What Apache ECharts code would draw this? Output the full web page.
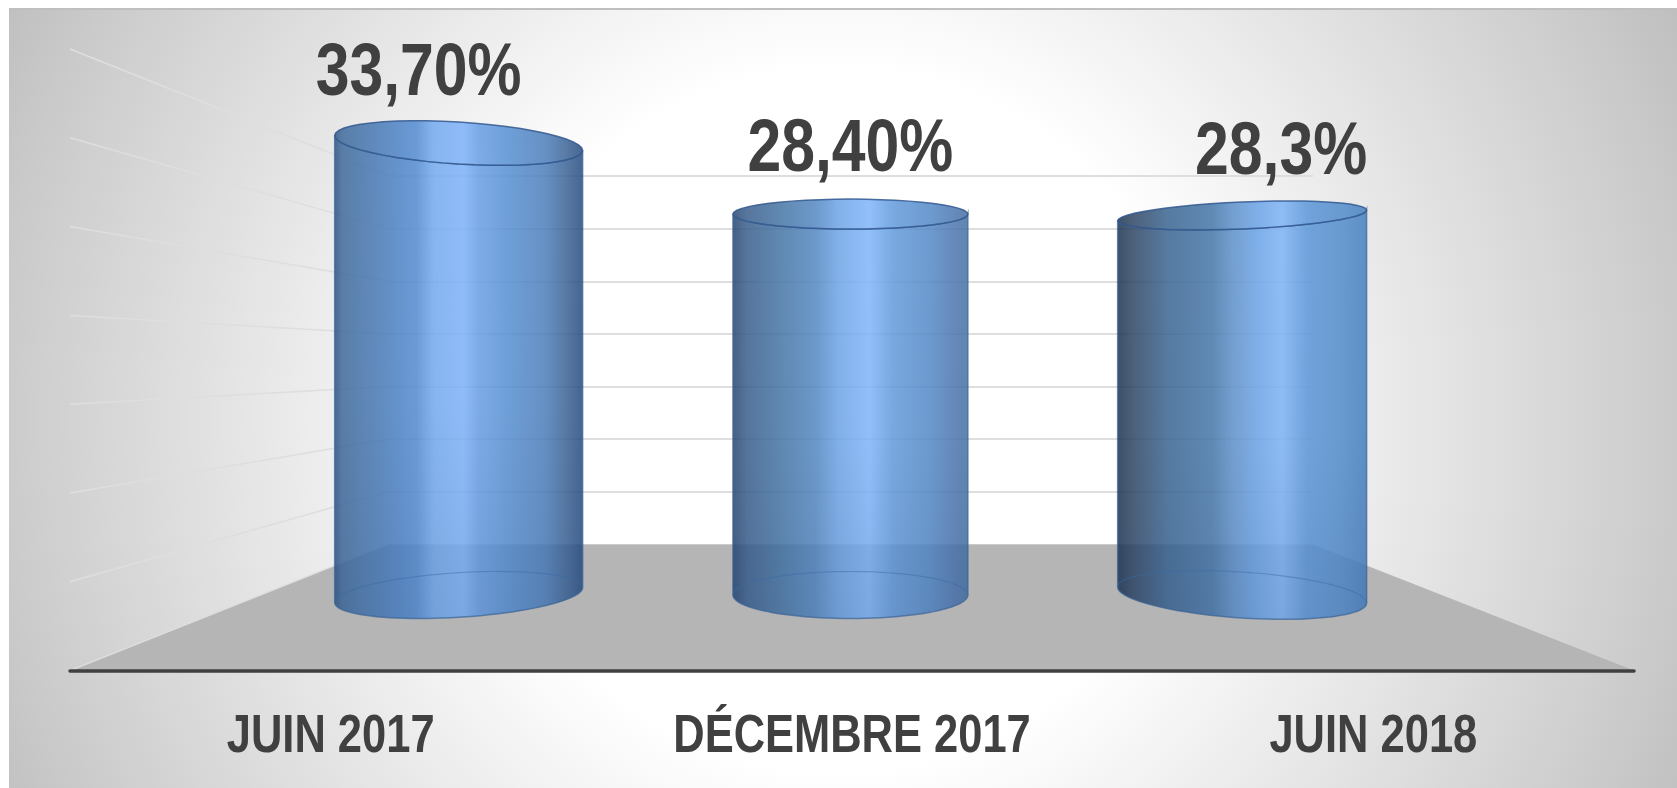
<!doctype html>
<html>
    <head>
        <meta charset="utf-8">
        <title>Cylindres 3D</title>
        <style>
            html, body { margin: 0; height: 100%; background: #fff; }
            #main { width: 1677px; height: 788px; }
        </style>
    </head>
    <body>
        <div id="main"></div>
        <script src="https://cdn.jsdelivr.net/npm/echarts@6/dist/echarts.min.js"></script>
        <script>
            var categories = ['JUIN 2017', 'DÉCEMBRE 2017', 'JUIN 2018'];
            var values = [33.7, 28.4, 28.3];
            var valueLabels = ['33,70%', '28,40%', '28,3%'];
            var levels = [0, 5, 10, 15, 20, 25, 30, 35];

            var FONT = '"Liberation Sans", Arial, sans-serif';
            var WIDTH = 1677;
            var HEIGHT = 788;
            // no narrow bold font here, so the text is squeezed sideways
            var TEXT_SQUEEZE = 0.82;
            var GLASS = 0.86;

            // the three planes of the fake 3d box: back wall, front edge, cylinders
            var backPlane = { left: 388, right: 1313, top: 176, bottom: 544.4 };
            var frontPlane = { left: 70, right: 1634, top: 49, bottom: 670.6 };
            var cylinderPlane = { left: 262.8, right: 1438, top: 125.6, bottom: 595 };

            // perspective look of each cylinder, stops are the colours seen over a white wall
            var cylinderLook = [
                {
                    halfWidth: 124, topTilt: 7.5, topRy: 21, baseTilt: -7.5, baseRy: 22.3, labelDx: -40, labelDy: -68,
                    stops: [[0, '#4a6a96'], [0.03, '#5b7fa8'], [0.1, '#5f87b4'], [0.25, '#6694cc'], [0.33, '#6c9cd8'], [0.4, '#88b6f0'], [0.52, '#90bdfa'], [0.58, '#7dace8'], [0.7, '#6f9fd8'], [0.85, '#6590c4'], [0.93, '#587aa5'], [1, '#456590']]
                },
                {
                    halfWidth: 117.5, topTilt: 0, topRy: 15, baseTilt: 0, baseRy: 23.5, labelDx: 0, labelDy: -63.5,
                    stops: [[0, '#475f82'], [0.06, '#56759c'], [0.2, '#5f88b0'], [0.35, '#6b98c9'], [0.45, '#82b0e8'], [0.58, '#92bffa'], [0.68, '#78a8e0'], [0.85, '#6b98cc'], [0.95, '#6488b8'], [1, '#5f85ae']]
                },
                {
                    halfWidth: 124.5, topTilt: -5.3, topRy: 13.5, baseTilt: 8, baseRy: 23, labelDx: 39, labelDy: -61.7,
                    stops: [[0, '#3c5068'], [0.06, '#4c5f78'], [0.2, '#567aa0'], [0.38, '#6089b4'], [0.46, '#749fd0'], [0.56, '#80b0ea'], [0.66, '#90bdf6'], [0.76, '#73a5de'], [0.9, '#6a9cd2'], [1, '#5f90c6']]
                }
            ];

            // colour to paint so that at GLASS opacity over white it looks like hex
            function underGlass(hex) {
                var parts = [1, 3, 5].map(function (i) {
                    var c = parseInt(hex.substr(i, 2), 16);
                    return Math.max(0, Math.min(255, Math.round((c - 250 * (1 - GLASS)) / GLASS)));
                });
                return 'rgb(' + parts.join(',') + ')';
            }

            function gridOf(plane) {
                return {
                    left: plane.left,
                    right: WIDTH - plane.right,
                    top: plane.top,
                    bottom: HEIGHT - plane.bottom
                };
            }

            function valueAxis(gridIndex, withLines) {
                return {
                    type: 'value',
                    gridIndex: gridIndex,
                    min: 0,
                    max: 35,
                    interval: 5,
                    axisLabel: { show: false },
                    axisLine: { show: false },
                    axisTick: { show: false },
                    splitLine: {
                        show: withLines,
                        lineStyle: { color: '#dedede', width: 2 }
                    }
                };
            }

            function hiddenCategoryAxis(gridIndex) {
                return { type: 'category', gridIndex: gridIndex, data: categories, show: false };
            }

            function squeezedText(x, y, text, fontSize) {
                return {
                    type: 'text',
                    x: x,
                    y: y,
                    scaleX: TEXT_SQUEEZE,
                    style: {
                        x: 0,
                        y: 0,
                        text: text,
                        align: 'center',
                        verticalAlign: 'middle',
                        fontFamily: FONT,
                        fontWeight: 'bold',
                        fontSize: fontSize,
                        fill: '#404040'
                    }
                };
            }

            // sheared ellipse: the ends sit at cy -/+ tilt, so it leans like the original
            function ellipsePoints(cx, cy, a, tilt, ry, from, to) {
                var points = [];
                var n = 48;
                for (var i = 0; i <= n; i++) {
                    var t = from + (to - from) * i / n;
                    points.push([
                        cx + a * Math.cos(t),
                        cy + tilt * Math.cos(t) + ry * Math.sin(t)
                    ]);
                }
                return points;
            }

            function renderFloor(params, api) {
                var rect = params.coordSys;
                var frontY = api.coord([0, api.value(1)])[1];
                var backY = chart.convertToPixel({ yAxisIndex: 0 }, api.value(1));
                return {
                    type: 'polygon',
                    shape: {
                        points: [
                            [rect.x, frontY],
                            [backPlane.left, backY],
                            [backPlane.right, backY],
                            [rect.x + rect.width, frontY]
                        ]
                    },
                    style: { fill: '#b5b5b5' }
                };
            }

            function renderRay(params, api) {
                var frontY = api.coord([0, api.value(1)])[1];
                var backY = chart.convertToPixel({ yAxisIndex: 0 }, api.value(1));
                return {
                    type: 'line',
                    shape: { x1: params.coordSys.x, y1: frontY, x2: backPlane.left, y2: backY },
                    style: { stroke: '#dedede', lineWidth: 1.5 }
                };
            }

            function renderCategoryLabel(params, api) {
                var p = api.coord([api.value(0), 0]);
                return squeezedText(p[0], p[1] + 67, categories[params.dataIndex], 53);
            }

            function renderCylinder(params, api) {
                var look = cylinderLook[params.dataIndex];
                var base = api.coord([api.value(0), 0]);
                var top = api.coord([api.value(0), api.value(1)]);
                var cx = base[0];
                var a = look.halfWidth;
                var fill = new echarts.graphic.LinearGradient(0, 0, 1, 0, look.stops.map(function (s) {
                    return { offset: s[0], color: underGlass(s[1]) };
                }));
                var shade = new echarts.graphic.LinearGradient(0, 0, 0, 1, [
                    { offset: 0, color: 'rgba(30,60,110,0)' },
                    { offset: 0.55, color: 'rgba(30,60,110,0.01)' },
                    { offset: 0.85, color: 'rgba(30,60,110,0.08)' },
                    { offset: 1, color: 'rgba(30,60,110,0.1)' }
                ]);

                // body: under the lid, down the right side, round the front of the base, up the left side
                var lidFront = ellipsePoints(cx, top[1], a, look.topTilt, look.topRy, Math.PI, 0);
                var baseFront = ellipsePoints(cx, base[1], a, look.baseTilt, look.baseRy, 0, Math.PI);
                var body = lidFront.concat(baseFront);

                return {
                    type: 'group',
                    children: [
                        {
                            type: 'polygon',
                            shape: { points: body },
                            style: { fill: fill, opacity: GLASS }
                        },
                        {
                            type: 'polygon',
                            shape: { points: body },
                            style: { fill: shade }
                        },
                        {
                            type: 'polyline',
                            shape: { points: body.concat([lidFront[0]]) },
                            style: { fill: 'none', stroke: '#3a6496', lineWidth: 1.5, opacity: 0.7 }
                        },
                        {
                            type: 'polyline',
                            shape: { points: ellipsePoints(cx, base[1], a, look.baseTilt, look.baseRy, Math.PI, 2 * Math.PI) },
                            style: { fill: 'none', stroke: '#3a6aa6', lineWidth: 1.2, opacity: 0.45 }
                        },
                        {
                            type: 'polygon',
                            shape: { points: ellipsePoints(cx, top[1], a, look.topTilt, look.topRy, 0, 2 * Math.PI) },
                            style: { fill: fill, opacity: GLASS, stroke: '#33598f', lineWidth: 1.5 }
                        },
                        squeezedText(cx + look.labelDx, top[1] + look.labelDy, valueLabels[params.dataIndex], 74)
                    ]
                };
            }

            // custom series on a category axis: each row is [category index, value]
            function rows(list) {
                return list.map(function (v, i) {
                    return [i, v];
                });
            }

            var chart = echarts.init(document.getElementById('main'), null, {
                devicePixelRatio: 1
            });

            chart.setOption({
                backgroundColor: '#fff',
                animation: false,
                graphic: [
                    {
                        type: 'rect',
                        z: -10,
                        shape: { x: 9, y: 8, width: WIDTH - 9, height: HEIGHT - 8 },
                        style: {
                            fill: new echarts.graphic.RadialGradient(838, 420, 950, [
                                { offset: 0, color: '#ffffff' },
                                { offset: 0.37, color: '#ffffff' },
                                { offset: 0.57, color: '#ebebeb' },
                                { offset: 0.88, color: '#cbcbcb' },
                                { offset: 1, color: '#bdbdbd' }
                            ], true)
                        }
                    },
                    {
                        type: 'line',
                        z: -9,
                        shape: { x1: 9, y1: 9, x2: WIDTH, y2: 9 },
                        style: { stroke: '#bfbfbf', lineWidth: 2 }
                    }
                ],
                grid: [gridOf(backPlane), gridOf(frontPlane), gridOf(cylinderPlane)],
                xAxis: [
                    hiddenCategoryAxis(0),
                    {
                        type: 'category',
                        gridIndex: 1,
                        data: categories,
                        z: 5,
                        axisTick: { show: false },
                        axisLabel: { show: false },
                        axisLine: {
                            lineStyle: { color: '#404040', width: 3.5, cap: 'round' }
                        }
                    },
                    hiddenCategoryAxis(2)
                ],
                yAxis: [valueAxis(0, true), valueAxis(1, false), valueAxis(2, false)],
                series: [
                    {
                        type: 'custom',
                        xAxisIndex: 1,
                        yAxisIndex: 1,
                        z: 1,
                        silent: true,
                        data: [[0, 0]],
                        renderItem: renderFloor
                    },
                    {
                        type: 'custom',
                        xAxisIndex: 1,
                        yAxisIndex: 1,
                        z: 2,
                        silent: true,
                        data: rows(levels),
                        renderItem: renderRay
                    },
                    {
                        type: 'custom',
                        xAxisIndex: 1,
                        yAxisIndex: 1,
                        z: 3,
                        silent: true,
                        data: rows(categories.map(function () { return 0; })),
                        renderItem: renderCategoryLabel
                    },
                    {
                        type: 'custom',
                        xAxisIndex: 2,
                        yAxisIndex: 2,
                        z: 3,
                        silent: true,
                        data: rows(values),
                        renderItem: renderCylinder
                    }
                ]
            });

            window.onresize = chart.resize;
        </script>
    </body>
</html>
